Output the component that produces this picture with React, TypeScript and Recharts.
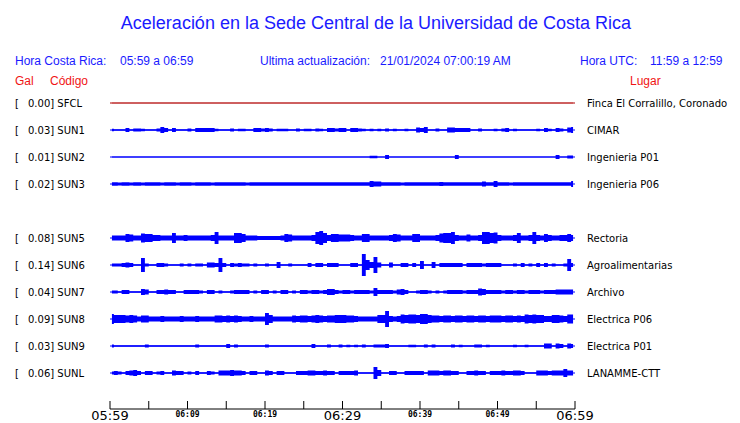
import { ComposedChart, Area, XAxis, YAxis, ReferenceLine } from 'recharts';

const TITLE = 'Aceleración en la Sede Central de la Universidad de Costa Rica';

// station rows (slot 4 = SUN4 is empty)
const stations = ['SFCL', 'SUN1', 'SUN2', 'SUN3', 'SUN5', 'SUN6', 'SUN7', 'SUN8', 'SUN9', 'SUNL'];
const slots = [0, 1, 2, 3, 5, 6, 7, 8, 9, 10];
const galValues = ['0.00', '0.03', '0.01', '0.02', '0.08', '0.14', '0.04', '0.09', '0.03', '0.06'];
const places = [
  'Finca El Corralillo, Coronado',
  'CIMAR',
  'Ingenieria P01',
  'Ingenieria P06',
  'Rectoria',
  'Agroalimentarias',
  'Archivo',
  'Electrica P06',
  'Electrica P01',
  'LANAMME-CTT',
];

// minutes after 05:59
const timeTicks = [0, 5, 10, 15, 20, 25, 30, 35, 40, 45, 50, 55, 60];
const timeLabels: Record<number, string> = {
  0: '05:59', 10: '06:09', 20: '06:19', 30: '06:29', 40: '06:39', 50: '06:49', 60: '06:59',
};
const bigLabels = [0, 30, 60];

// half-amplitude envelopes, one value per 30 s window
const SAMPLE_MIN = 0.5;
const sfcl = [
  .2, .2, .2, .2, .2, .2, .2, .2, .2, .2,
  .2, .2, .2, .2, .2, .2, .2, .2, .2, .2,
  .2, .2, .2, .2, .2, .2, .2, .2, .2, .2,
  .2, .2, .2, .2, .2, .2, .2, .2, .2, .2,
  .2, .2, .2, .2, .2, .2, .2, .2, .2, .2,
  .2, .2, .2, .2, .2, .2, .2, .2, .2, .2,
  .2, .2, .2, .2, .2, .2, .2, .2, .2, .2,
  .2, .2, .2, .2, .2, .2, .2, .2, .2, .2,
  .2, .2, .2, .2, .2, .2, .2, .2, .2, .2,
  .2, .2, .2, .2, .2, .2, .2, .2, .2, .2,
  .2, .2, .2, .2, .2, .2, .2, .2, .2, .2,
  .2, .2, .2, .2, .2, .2, .2, .2, .2, .2,
];
const sun1 = [
  1.2, .7, .7, .7, 2, .7, 1.5, 1.5, 1.2, .7,
  .7, .7, 1.5, 3, 2, .7, 2, .7, .7, .7,
  1.5, .7, 2, 2, 2, 2, 2, 1.2, .7, .7,
  .7, 1.5, .7, 1.2, 1.2, .7, .7, 2, 2, 1.5,
  2, 1.5, .7, 1.2, 1.2, 1.2, .7, .7, 1.5, .7,
  1.2, 1.2, .7, 1.5, 1.2, .7, 2, 2, 1.5, 2,
  2, .7, 2, 2, 1.5, 1.2, .7, 1.2, .7, 1.2,
  .7, 1.5, .7, 1.2, .7, .7, 1.2, .7, .7, 2.5,
  2, 3, .7, .7, 1.5, .7, .7, 2.5, 2.5, 2,
  2, 2, 2, .7, .7, 1.5, .7, .7, .7, 1.2,
  .7, 1.5, 2, .7, 1.2, .7, .7, .7, .7, .7,
  1.2, .7, 2, 1.2, .7, 2, 1.5, .7, 2.5, 3,
];
const sun2 = [
  .5, .5, .5, .5, .5, .5, .5, .5, .5, .5,
  .5, .5, .5, .5, .5, .5, .5, .5, .5, .5,
  .5, .5, .5, .5, .5, .5, .5, .5, .5, .5,
  .5, .5, .5, .5, .5, .5, .5, .5, .5, .5,
  .5, .5, .5, .5, .5, .5, .5, .5, .5, .5,
  .5, .5, .5, .5, .5, .5, .5, .5, .5, .5,
  .5, .5, .5, .5, .5, .5, .5, 1.2, 1.2, .5,
  .5, 2, .5, .5, .5, .5, .5, .5, .5, .5,
  .5, .5, .5, .5, .5, .5, .5, .5, .5, 2,
  .5, .5, .5, .5, .5, .5, .5, .5, .5, .5,
  .5, .5, .5, .5, .5, .5, .5, .5, .5, .5,
  .5, .5, .5, .5, .5, 2, .5, .5, 1.5, 1.5,
];
const sun3 = [
  1.7, 1.7, 1.5, 1.7, 1.7, 1.5, 1.7, 1.7, 1.5, 1.7,
  1.7, 1.7, 1.7, 1.5, 1.7, 1.7, 1.7, 1.5, 1.7, 1.7,
  1.7, 1.5, 1.7, 1.7, 1.7, 1.7, 1.5, 1.7, 1.7, 1.7,
  1.7, 1.7, 1.7, 1.7, 1.7, 1.5, 1.7, 1.7, 1.7, 1.7,
  1.7, 1.7, 1.7, 1.7, 1.7, 1.7, 1.7, 1.7, 1.7, 1.7,
  1.7, 1.7, 1.7, 1.7, 1.7, 1.7, 1.7, 1.7, 1.7, 1.7,
  1.7, 1.7, 1.7, 1.7, 1.7, 1.7, 1.7, 3, 2.5, 2.5,
  1.7, 1.7, 1.7, 1.7, 1.7, 1.5, 1.7, 1.7, 1.7, 1.7,
  1.7, 1.7, 1.7, 1.7, 1.7, 2, 1.7, 1.7, 1.7, 1.7,
  1.7, 1.7, 1.7, 1.7, 1.7, 1.7, 2.5, 1.7, 1.7, 3,
  1.7, 1.7, 1.7, 1.5, 1.7, 1.7, 1.7, 1.7, 1.7, 1.7,
  1.7, 1.7, 1.7, 1.7, 1.7, 1.7, 1.7, 1.7, 1.7, 3,
];
const sun5 = [
  2.5, 2.5, 2.5, 2.5, 4, 3.5, 2.5, 2.5, 4.5, 4,
  4, 3, 3, 2.5, 2.5, 2.5, 5, 2.5, 2.5, 3,
  2.5, 2.5, 2.5, 2.5, 2.5, 2.5, 3, 6, 2.5, 2.5,
  2.5, 2.5, 5, 5, 4, 2.5, 2.5, 2.5, 2, 2,
  2, 2, 2, 2, 2.5, 4, 3.5, 2.5, 2.5, 2.5,
  2.5, 2.5, 3, 6, 7, 5, 3, 4, 4, 3.5,
  3.5, 3.5, 3, 2.5, 2.5, 4, 4, 2.5, 2.5, 2.5,
  2.5, 2.5, 3, 4, 3.5, 2.5, 2.5, 2.5, 4, 4,
  2.5, 2.5, 2.5, 2.5, 3, 4.5, 5, 5, 6, 3,
  2.5, 2.5, 3.5, 2.5, 2.5, 3, 6, 6, 5, 5.5,
  3, 2.5, 2.5, 2.5, 3, 5, 2.5, 2.5, 3, 6,
  3, 2.5, 4, 3, 2.5, 2.5, 3, 3, 4, 3,
];
const sun6 = [
  1.5, 1.5, 1.5, 2, 2.5, 2, .8, .8, 7, 1.5,
  .8, .8, 2, 2, 1.5, .8, .8, .8, 1.5, .8,
  1.5, .8, 1.5, 1.5, .8, 2.5, 2.5, 2, 7, 2,
  .8, 2, 1.5, 2, 1.5, 1.5, .8, 1.5, .8, .8,
  1.5, .8, .8, 3, .8, .8, 1.5, .8, .8, .8,
  .8, 2, .8, 2, 2, .8, 2, 2, 2, .8,
  .8, .8, 2, 2, .8, 11, 5, 3, 8, 2.5,
  .8, .8, 2.5, .8, .8, 2, 2, .8, 2, .8,
  4, .8, .8, 3, .8, 2, 2, 2, 2, 2,
  2, .8, 2, 2, 2, 2, 1.5, 2, 2, 2,
  2, .8, .8, .8, 1.5, .8, 2, .8, 1.5, .8,
  2, .8, 2, .8, 1.5, .8, .8, 1.5, 6, 2,
];
const sun7 = [
  1.5, 1.5, .8, 2, 2, .8, .8, .8, 3, 2.5,
  .8, .8, 2, 2, 2.5, 2, 2, .8, .8, 2,
  2, 2, 2, 1.5, .8, 2, 2, .8, 1.5, .8,
  .8, 1.5, 2, 2, 2, 2, .8, 1.5, .8, 2,
  2, .8, 1.5, .8, 2, 2, .8, 1.5, .8, 2,
  2, 1.5, 2, 2, 1.5, 2, 3, 3, 2, 1.5,
  2, 2, 1.5, 2, 2, 2, 2, 1.5, 4, 2,
  2, 2, 2, 1.5, 2.5, 3, 2, .8, .8, 1.5,
  2, 2, 1.5, .8, 1.5, .8, 1.5, 2, 2, 2,
  2, 1.5, 2, 2, 2, 3.5, 3, 2, 2, 2,
  2, 1.5, 2, 2, 1.5, 2, 2, 1.5, 2, 2,
  2, 1.5, 2, 2, 2, 2.5, 2.5, 2.5, 2.5, 2.5,
];
const sun8 = [
  5, 4, 4, 4, 3.5, 4, 3.5, 2.5, 3.5, 3.5,
  2.5, 2.5, 2.5, 3, 2.5, 2.5, 2.5, 2.5, 3, 2.5,
  2.5, 2.5, 3, 2.5, 2.5, 2.5, 2.5, 3.5, 3.5, 3,
  3.5, 3, 3.5, 3, 2.5, 2.5, 3, 2.5, 2.5, 2.5,
  6, 4, 2.5, 2.5, 2.5, 2.5, 2.5, 3.5, 3, 3.5,
  3.5, 3, 3.5, 4, 3.5, 3, 3.5, 3.5, 4, 4,
  4, 3.5, 3.5, 3, 2.5, 2.5, 2.5, 2.5, 2.5, 4,
  4, 8, 3, 2.5, 3, 4.5, 4, 4.5, 4.5, 4,
  5, 5, 4, 3.5, 3.5, 3, 3.5, 3.5, 3, 3.5,
  3.5, 3, 3.5, 3.5, 3, 3.5, 3.5, 3, 3.5, 3.5,
  3.5, 3, 3.5, 3.5, 3, 3.5, 3, 4.5, 4, 4.5,
  4, 4, 3, 3, 4, 4, 3.5, 3, 4.5, 4.5,
];
const sun9 = [
  1.5, .8, .8, .8, .8, .8, .8, .8, .8, 1.5,
  .8, .8, .8, .8, .8, .8, .8, .8, .8, .8,
  .8, .8, 1.5, .8, .8, .8, .8, .8, .8, .8,
  2, .8, 1.5, .8, .8, .8, .8, .8, .8, .8,
  1.5, .8, .8, .8, .8, .8, .8, .8, .8, .8,
  .8, .8, 2, .8, .8, .8, 1.5, .8, .8, 1.5,
  .8, 1.2, .8, 1.2, .8, 1.5, .8, .8, 1.5, 1.5,
  1.5, 2, .8, .8, .8, .8, .8, 1.2, 1.2, .8,
  .8, 1.5, .8, 1.5, .8, .8, .8, .8, 1.5, .8,
  1.2, .8, .8, .8, 1.5, 1.5, .8, 1.2, .8, .8,
  .8, .8, .8, .8, 1.2, .8, .8, 1.2, .8, .8,
  .8, .8, 2.5, 2.5, .8, 2.5, 2, .8, 2.5, 2,
];
const sunl = [
  1.5, 2, 1.5, .8, 2, 2.5, 3, 2, .8, 2,
  2, .8, 1.5, 2, .8, .8, 2.5, 2, 2, .8,
  1.5, .8, 2, .8, .8, 2, 1.5, .8, 2.5, 2.5,
  2.5, 3, 2.5, 2.5, 2, .8, 2, 2, .8, .8,
  2.5, 2, .8, 2, 2, .8, .8, .8, 2, 2,
  2, 2.5, 2.5, 2, 2, 2.5, 2, 2, .8, 2,
  2, 2, 2, 2.5, .8, .8, .8, .8, 6, 3,
  .8, .8, 2, 2, .8, .8, 2, 2, 2, 2,
  2, .8, 2.5, 2.5, 2.5, 2, 2.5, 2.5, 2, 2,
  .8, .8, 2, 2, 2.5, 2, 2, .8, 2, 2,
  2, 2.5, 2, 2, 2.5, 2.5, 2, .8, .8, .8,
  2.5, 2.5, 2.5, 2, 2.5, 2.5, 2.5, 4, 2.5, 2.5,
];
const traces = [sfcl, sun1, sun2, sun3, sun5, sun6, sun7, sun8, sun9, sunl];

const BLUE = '#0000ff';
const TEXT_BLUE = '#1a1aff';
const TEXT_RED = '#f01414';
const traceColors = ['#b00000', BLUE, BLUE, BLUE, BLUE, BLUE, BLUE, BLUE, BLUE, BLUE];

// y units are pixels: plot runs 90..409, first row at 103, rows 27px apart
const PLOT_H = 319;
const rowValue = (slot: number) => PLOT_H - 13 - 27 * slot;
const rowValues = slots.map(rowValue);

const data = sun1.map((_, i) => {
  const row: Record<string, any> = { t: (i + 0.5) * SAMPLE_MIN };
  stations.forEach((s, k) => {
    const base = rowValues[k];
    const a = traces[k][i];
    row[s] = [base - a, base + a];
  });
  return row;
});

const labelFont = 'DejaVu Sans, sans-serif';
const headFont = 'Liberation Sans, Arial, sans-serif';

const LeftTick = (props: any) => {
  const k = rowValues.indexOf(props.payload.value);
  if (k < 0) return <g />;
  return (
    <g fontFamily={labelFont} fontSize={10} fill="#000">
      <text x={15} y={props.y} dy="0.35em">[</text>
      <text x={28} y={props.y} dy="0.35em">{`${galValues[k]}] ${stations[k]}`}</text>
    </g>
  );
};

const RightTick = (props: any) => {
  const k = rowValues.indexOf(props.payload.value);
  if (k < 0) return <g />;
  return (
    <text x={587} y={props.y} dy="0.35em" fontFamily={labelFont} fontSize={10} fill="#000">
      {places[k]}
    </text>
  );
};

const TimeTick = (props: any) => {
  const { x, payload } = props;
  const v = payload.value;
  const label = timeLabels[v];
  const big = bigLabels.includes(v);
  return (
    <g>
      <line x1={x} x2={x} y1={401} y2={409} stroke="#000" strokeWidth={1} />
      {label && (
        <text
          x={x}
          y={big ? 420 : 417}
          textAnchor="middle"
          fontFamily={big ? labelFont : 'DejaVu Sans Mono, monospace'}
          fontWeight={big ? 'normal' : 'bold'}
          fontSize={big ? 13 : 8}
          fill="#000"
        >
          {label}
        </text>
      )}
    </g>
  );
};

export default function App() {
  return (
    <div style={{ position: 'absolute', left: 0, top: 0, width: 740, height: 423, background: '#fff' }}>
      <svg width={740} height={95} style={{ position: 'absolute', left: 0, top: 0 }}>
        <text x={376} y={29} textAnchor="middle" fontFamily={headFont} fontSize={18} fill={TEXT_BLUE}>
          {TITLE}
        </text>
        <g fontFamily={headFont} fontSize={12} fill={TEXT_BLUE}>
          <text x={15} y={65}>Hora Costa Rica:</text>
          <text x={120} y={65}>05:59 a 06:59</text>
          <text x={260} y={65}>Ultima actualización:</text>
          <text x={380} y={65}>21/01/2024 07:00:19 AM</text>
          <text x={580} y={65}>Hora UTC:</text>
          <text x={650} y={65}>11:59 a 12:59</text>
        </g>
        <g fontFamily={headFont} fontSize={12} fill={TEXT_RED}>
          <text x={15} y={85}>Gal</text>
          <text x={50} y={85}>Código</text>
          <text x={630} y={85}>Lugar</text>
        </g>
      </svg>
      <div style={{ position: 'absolute', left: 0, top: 0 }}>
        <ComposedChart width={740} height={423} data={data} margin={{ top: 90, right: 10, bottom: 0, left: 10 }}>
          <XAxis
            dataKey="t"
            type="number"
            domain={[0, 60]}
            ticks={timeTicks}
            interval={0}
            height={14}
            axisLine={{ stroke: '#000', strokeWidth: 1 }}
            tickLine={false}
            tick={TimeTick}
          />
          <YAxis
            yAxisId="left"
            type="number"
            domain={[0, PLOT_H]}
            allowDataOverflow
            ticks={rowValues}
            interval={0}
            width={100}
            axisLine={false}
            tickLine={false}
            tick={LeftTick}
          />
          <YAxis
            yAxisId="right"
            orientation="right"
            type="number"
            domain={[0, PLOT_H]}
            allowDataOverflow
            ticks={rowValues}
            interval={0}
            width={155}
            axisLine={false}
            tickLine={false}
            tick={RightTick}
          />
          {stations.map((s, k) => (
            <ReferenceLine
              key={`ref-${s}`}
              yAxisId="left"
              y={rowValues[k]}
              stroke={traceColors[k]}
              strokeWidth={1}
            />
          ))}
          {stations.map((s, k) => (
            <Area
              key={s}
              yAxisId="left"
              dataKey={s}
              type="step"
              stroke="none"
              fill={traceColors[k]}
              fillOpacity={1}
              dot={false}
              activeDot={false}
              isAnimationActive={false}
            />
          ))}
        </ComposedChart>
      </div>
    </div>
  );
}
